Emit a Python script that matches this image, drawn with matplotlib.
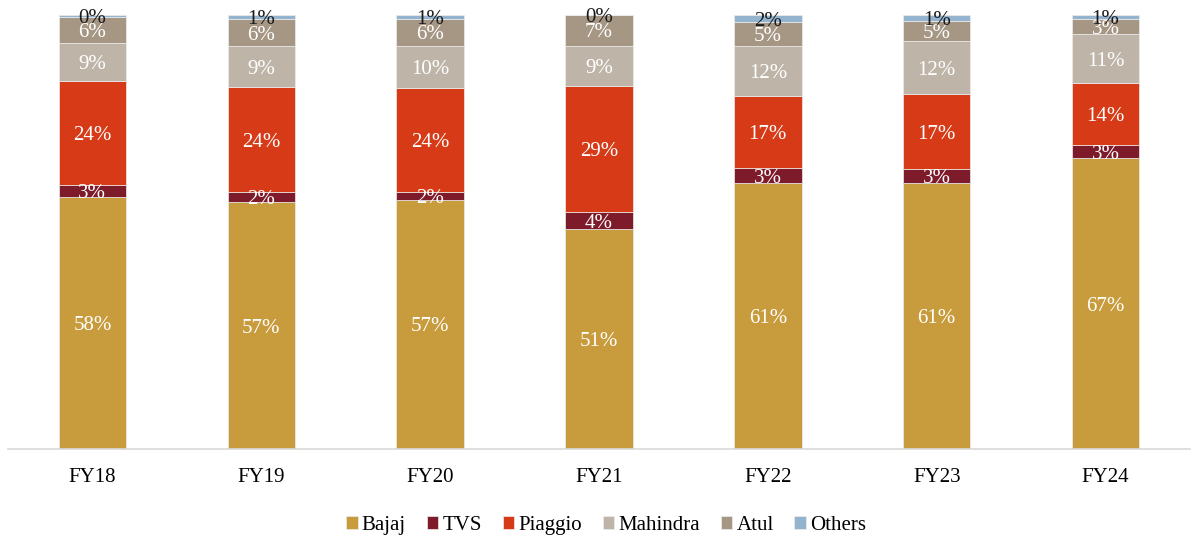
import numpy as np
import matplotlib
matplotlib.use("Agg")
import matplotlib.pyplot as plt

# market share (%) per year
years = ["FY18", "FY19", "FY20", "FY21", "FY22", "FY23", "FY24"]
bajaj = [58.1, 56.9, 57.4, 50.6, 61.3, 61.3, 67.0]
tvs = [2.8, 2.3, 1.8, 4.0, 3.4, 3.2, 3.0]
piaggio = [24.0, 24.2, 24.0, 29.0, 16.6, 17.3, 14.3]
mahindra = [8.7, 9.4, 9.7, 9.3, 11.6, 12.2, 11.3]
atul = [6.0, 6.3, 6.2, 7.1, 5.4, 4.6, 3.4]
others = [0.4, 0.9, 0.9, 0.0, 1.7, 1.4, 1.0]

series = [("Bajaj", bajaj, "#C89B3C"),
          ("TVS", tvs, "#7E1B2A"),
          ("Piaggio", piaggio, "#D63A17"),
          ("Mahindra", mahindra, "#BEB5A8"),
          ("Atul", atul, "#A69684"),
          ("Others", others, "#94B3CF")]

plt.rcParams['font.family'] = ['Liberation Serif', 'DejaVu Serif']

fig = plt.figure(figsize=(11.98, 5.38), dpi=100)
ax = fig.add_axes([8 / 1198, 89 / 538, 1182 / 1198, 434 / 538])

x = np.arange(len(years))
bottom = np.zeros(len(years))
for name, vals, col in series:
    vals = np.array(vals)
    ax.bar(x, vals, 0.4, bottom=bottom, color=col, edgecolor="#EDEDED",
           linewidth=0.5, label=name)
    for i in range(len(years)):
        c = "#1a1a1a" if name == "Others" else "white"
        ax.text(x[i], bottom[i] + vals[i] / 2, "%d%%" % round(vals[i]),
                ha="center", va="center_baseline", color=c, fontsize=15)
    bottom += vals

ax.set_xlim(-0.5, 6.5)
ax.set_ylim(0, 100)
ax.set_xticks(x)
ax.set_xticklabels(years, fontsize=15)
ax.set_yticks([])
ax.tick_params(axis="x", length=0, pad=14)
for s in ["top", "right", "left"]:
    ax.spines[s].set_visible(False)
ax.spines["bottom"].set_color("#D9D9D9")
ax.spines["bottom"].set_linewidth(1.2)

ax.legend(loc="center", bbox_to_anchor=(0.506, -0.176), ncol=6, frameon=False,
          fontsize=15, handlelength=0.55, handleheight=0.55, handletextpad=0.2,
          columnspacing=1.0)

fig.savefig("out.png", dpi=100)
